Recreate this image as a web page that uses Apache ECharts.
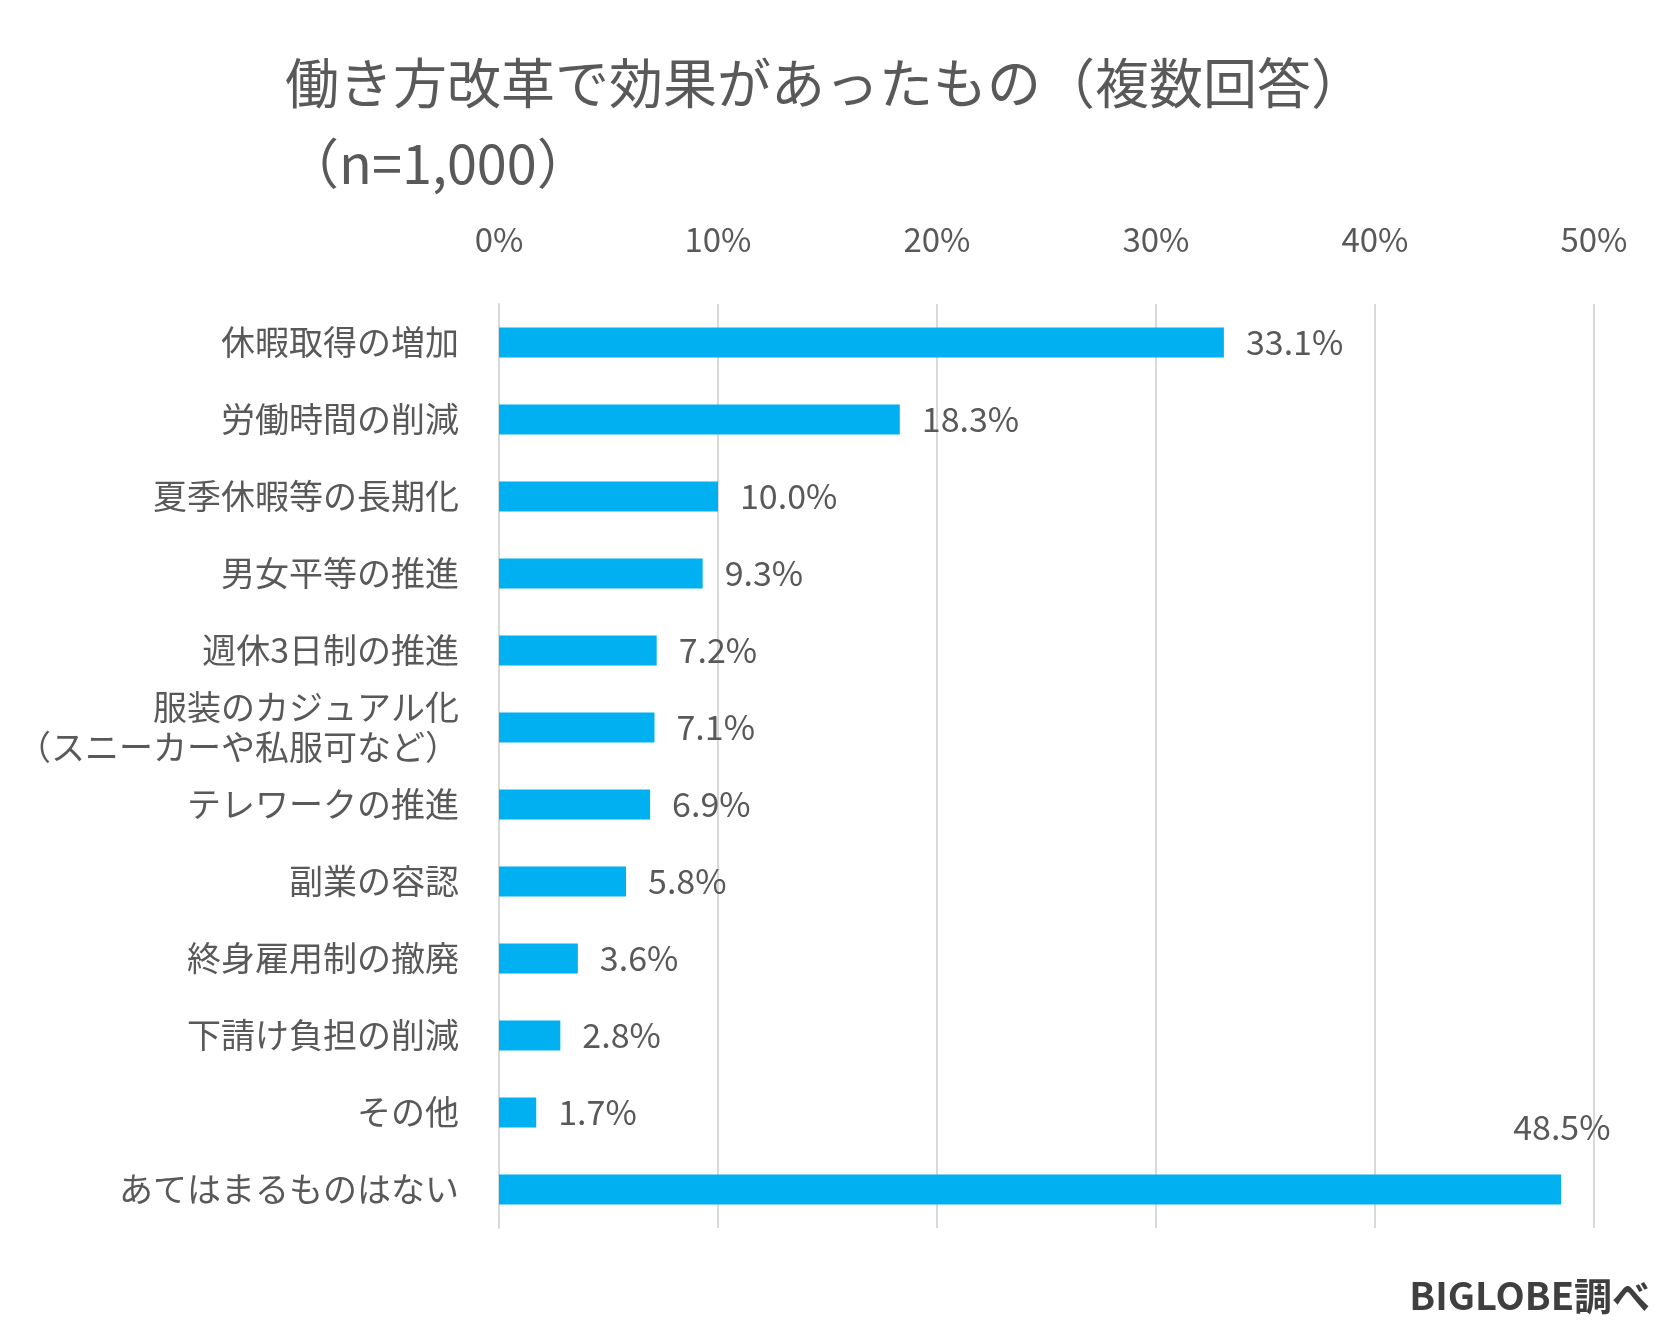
<!DOCTYPE html>
<html><head><meta charset="utf-8">
<script src="https://cdn.jsdelivr.net/npm/echarts@6/dist/echarts.min.js"></script>
<style>html,body{margin:0;padding:0;background:#fff}#c{width:1675px;height:1340px}</style>
</head><body><div id="c"></div>
<script>
const categories = ["休暇取得の増加","労働時間の削減","夏季休暇等の長期化","男女平等の推進","週休3日制の推進","服装のカジュアル化\n（スニーカーや私服可など）","テレワークの推進","副業の容認","終身雇用制の撤廃","下請け負担の削減","その他","あてはまるものはない"];
const values = [33.1,18.3,10.0,9.3,7.2,7.1,6.9,5.8,3.6,2.8,1.7,48.5];

const font = "'Noto Sans CJK JP', sans-serif";
const chart = echarts.init(document.getElementById("c"));
chart.setOption({
  backgroundColor: "#fff",
  animation: false,
  title: [{
    text: "働き方改革で効果があったもの（複数回答）\n（n=1,000）",
    left: 280, top: 38,
    textStyle: { fontFamily: font, fontSize: 54, fontWeight: "normal", color: "#595959", lineHeight: 80 }
  }, {
    text: "BIGLOBE調べ",
    right: 20, bottom: 20,
    textStyle: { fontFamily: font, fontSize: 38, fontWeight: "bold", color: "#3f3f3f" }
  }],
  grid: { left: 499, right: 81, top: 304, bottom: 112 },
  xAxis: {
    type: "value", position: "top", min: 0, max: 50, interval: 10,
    axisLabel: { formatter: "{value}%", fontFamily: font, fontSize: 33, color: "#595959", margin: 48 },
    axisLine: { show: false }, axisTick: { show: false },
    splitLine: { lineStyle: { color: "#d9d9d9", width: 2 } }
  },
  yAxis: {
    type: "category", inverse: true, data: categories,
    axisLabel: { fontFamily: font, fontSize: 34, color: "#595959", margin: 40, lineHeight: 40, align: "right" },
    axisLine: { lineStyle: { color: "#d9d9d9", width: 2 } }, axisTick: { show: false }
  },
  series: [{
    type: "bar", barWidth: 30,
    itemStyle: { color: "#00B0F0" },
    data: values.map((v, i) => i === values.length - 1
      ? { value: v, label: { position: "right", offset: [-70, -62] } }
      : v),
    label: {
      show: true, position: "right", distance: 22,
      formatter: p => p.value.toFixed(1) + "%",
      fontFamily: font, fontSize: 34, color: "#595959"
    }
  }]
});
</script></body></html>
